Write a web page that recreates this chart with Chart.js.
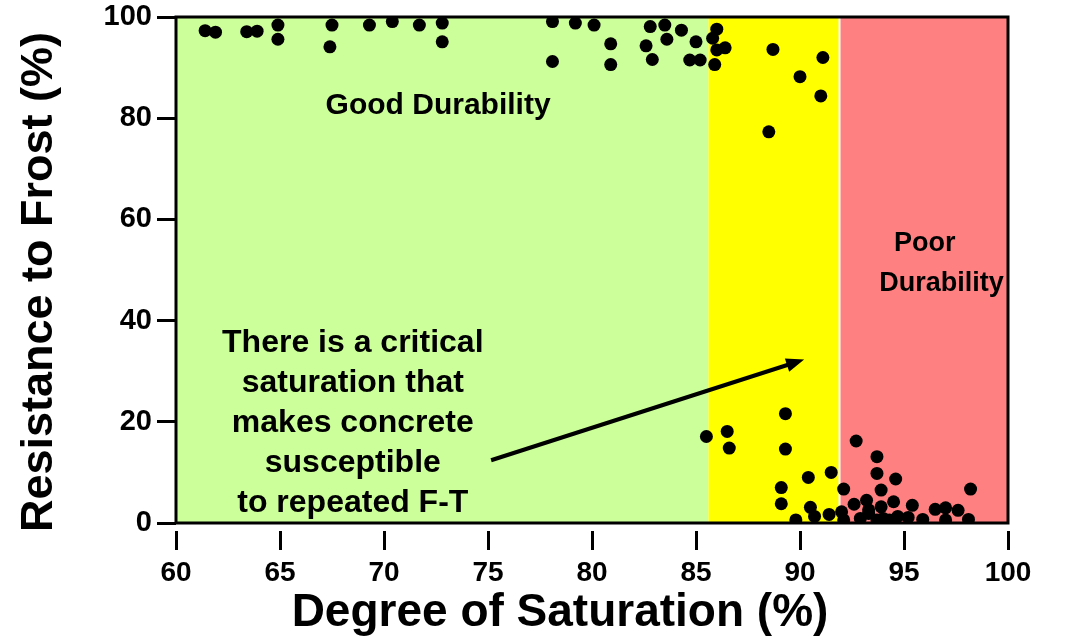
<!DOCTYPE html>
<html>
<head>
<meta charset="utf-8">
<script src="https://cdn.jsdelivr.net/npm/chart.js@4/dist/chart.umd.min.js"></script>
<style>
  html, body { margin: 0; padding: 0; background: #fff; }
  #wrap { width: 1065px; height: 641px; }
</style>
</head>
<body>
<div id="wrap"><canvas id="chart"></canvas></div>
<script>
// degree of saturation (%) vs resistance to frost (%)
var satValues = [
  61.4, 61.9, 63.4, 63.9, 64.9, 64.9, 67.5, 67.4, 69.3, 70.4, 71.7, 72.8, 72.8,
  78.1, 79.2, 80.1, 78.1, 80.9, 80.9, 82.8, 83.5, 84.3, 82.6, 83.6, 82.9, 85.0, 84.7, 85.2,
  86.0, 85.8, 86.0, 86.4, 85.9, 88.7, 91.1, 90.0, 91.0, 88.5,
  85.5, 86.5, 86.6, 89.3, 89.3, 89.1, 89.1, 90.4, 91.5, 90.5, 90.7, 91.4, 89.8, 92.0, 92.1,
  92.7, 93.7, 93.7, 94.6, 93.9, 98.2, 92.6, 93.2, 93.9, 94.5, 95.4, 96.5, 97.0, 97.6,
  92.1, 92.9, 93.3, 93.7, 94.3, 94.7, 95.2, 95.9, 97.0, 98.1, 93.3, 94.0
];
var frostValues = [
  97.3, 97.0, 97.1, 97.2, 98.4, 95.6, 98.4, 94.1, 98.4, 99.1, 98.4, 98.8, 95.1,
  99.1, 98.8, 98.4, 91.2, 94.7, 90.6, 98.1, 98.4, 97.4, 94.3, 95.6, 91.6, 95.1, 91.5, 91.5,
  97.6, 95.8, 93.5, 93.9, 90.6, 93.6, 92.0, 88.2, 84.4, 77.3,
  17.1, 18.1, 14.8, 21.6, 14.6, 7.0, 3.8, 9.0, 10.0, 3.1, 1.3, 1.7, 0.6, 2.2, 6.7,
  16.2, 13.1, 9.8, 8.7, 6.5, 6.7, 3.7, 4.5, 3.2, 4.2, 3.5, 2.7, 3.0, 2.5,
  0.6, 0.9, 1.9, 0.6, 0.6, 1.3, 1.1, 0.7, 0.6, 0.7, 2.6, 0.9
];
var xTicks = [60, 65, 70, 75, 80, 85, 90, 95, 100];
var yTicks = [0, 20, 40, 60, 80, 100];
var zoneEdges = [60, 85.6, 91.9, 100];
var zoneColors = ['#ccff99', '#ffff00', '#ff8080'];
var noteLines = ['There is a critical', 'saturation that', 'makes concrete', 'susceptible', 'to repeated F-T'];
var xTitle = 'Degree of Saturation (%)';
var yTitle = 'Resistance to Frost (%)';

var points = satValues.map(function (x, i) { return { x: x, y: frostValues[i] }; });

var FONT = '"Liberation Sans", Arial, sans-serif';

var zonesPlugin = {
  id: 'zones',
  beforeDatasetsDraw: function (chart) {
    var ctx = chart.ctx, a = chart.chartArea, xs = chart.scales.x;
    ctx.save();
    for (var i = 0; i < zoneColors.length; i++) {
      var x1 = xs.getPixelForValue(zoneEdges[i]);
      var x2 = xs.getPixelForValue(zoneEdges[i + 1]);
      ctx.fillStyle = zoneColors[i];
      ctx.fillRect(x1, a.top, x2 - x1, a.bottom - a.top);
    }
    // thin white divider before the red zone
    var xd = xs.getPixelForValue(zoneEdges[2]);
    ctx.fillStyle = '#fff';
    ctx.fillRect(xd - 1, a.top, 2, a.bottom - a.top);
    ctx.restore();
  },
  afterDatasetsDraw: function (chart) {
    var ctx = chart.ctx, a = chart.chartArea;
    var xs = chart.scales.x, ys = chart.scales.y;
    ctx.save();
    ctx.strokeStyle = '#000';
    ctx.lineWidth = 3;
    ctx.strokeRect(a.left, a.top, a.right - a.left, a.bottom - a.top);

    ctx.fillStyle = '#000';
    ctx.textAlign = 'center';
    ctx.textBaseline = 'middle';
    ctx.font = 'bold 30px ' + FONT;
    ctx.fillText('Good Durability', xs.getPixelForValue(72.6), ys.getPixelForValue(82.4));
    ctx.font = 'bold 27px ' + FONT;
    ctx.fillText('Poor', xs.getPixelForValue(96.0), ys.getPixelForValue(55.2));
    ctx.fillText('Durability', xs.getPixelForValue(96.8), ys.getPixelForValue(47.4));

    ctx.font = 'bold 32px ' + FONT;
    var cx = xs.getPixelForValue(68.5);
    for (var i = 0; i < noteLines.length; i++) {
      ctx.fillText(noteLines[i], cx, ys.getPixelForValue(35.6) + i * 40);
    }

    // arrow
    var ax1 = xs.getPixelForValue(75.15), ay1 = ys.getPixelForValue(12.4);
    var ax2 = xs.getPixelForValue(90.2), ay2 = ys.getPixelForValue(32.3);
    var ang = Math.atan2(ay2 - ay1, ax2 - ax1);
    ctx.lineWidth = 4;
    ctx.beginPath();
    ctx.moveTo(ax1, ay1);
    ctx.lineTo(ax2 - 12 * Math.cos(ang), ay2 - 12 * Math.sin(ang));
    ctx.stroke();
    ctx.beginPath();
    ctx.moveTo(ax2, ay2);
    ctx.lineTo(ax2 - 18 * Math.cos(ang) + 7 * Math.sin(ang), ay2 - 18 * Math.sin(ang) - 7 * Math.cos(ang));
    ctx.lineTo(ax2 - 18 * Math.cos(ang) - 7 * Math.sin(ang), ay2 - 18 * Math.sin(ang) + 7 * Math.cos(ang));
    ctx.closePath();
    ctx.fill();

    // axis titles
    ctx.font = 'bold 46px ' + FONT;
    ctx.fillText(xTitle, 560, 613);
    ctx.translate(40, 282);
    ctx.rotate(-Math.PI / 2);
    ctx.font = 'bold 45px ' + FONT;
    ctx.fillText(yTitle, 0, 0);
    ctx.restore();
  }
};

new Chart(document.getElementById('chart'), {
  type: 'scatter',
  data: {
    datasets: [{
      data: points,
      backgroundColor: '#000',
      borderWidth: 0,
      pointRadius: 6.5,
      pointHoverRadius: 6.5
    }]
  },
  options: {
    responsive: true,
    maintainAspectRatio: false,
    animation: false,
    events: [],
    layout: { padding: { left: 0, right: 57, top: 17, bottom: 0 } },
    plugins: { legend: { display: false }, tooltip: { enabled: false } },
    scales: {
      x: {
        type: 'linear',
        min: 60, max: 100,
        afterBuildTicks: function (s) { s.ticks = xTicks.map(function (v) { return { value: v }; }); },
        afterFit: function (s) { s.height = 118; s.paddingLeft = 0; s.paddingRight = 0; },
        border: { display: false },
        grid: {
          drawOnChartArea: false, drawTicks: true,
          tickLength: 27, tickWidth: 3, tickColor: '#000',
          tickBorderDash: [0, 8, 19, 100]
        },
        ticks: {
          color: '#000', padding: 6,
          font: { family: FONT, size: 28, weight: 'bold' }
        }
      },
      y: {
        type: 'linear',
        min: 0, max: 100,
        afterBuildTicks: function (s) { s.ticks = yTicks.map(function (v) { return { value: v }; }); },
        afterFit: function (s) { s.width = 176; s.paddingTop = 0; s.paddingBottom = 0; },
        border: { display: false },
        grid: {
          drawOnChartArea: false, drawTicks: true,
          tickLength: 19, tickWidth: 3, tickColor: '#000'
        },
        ticks: {
          color: '#000', padding: 5,
          font: { family: FONT, size: 29, weight: 'bold' }
        }
      }
    }
  },
  plugins: [zonesPlugin]
});
</script>
</body>
</html>
